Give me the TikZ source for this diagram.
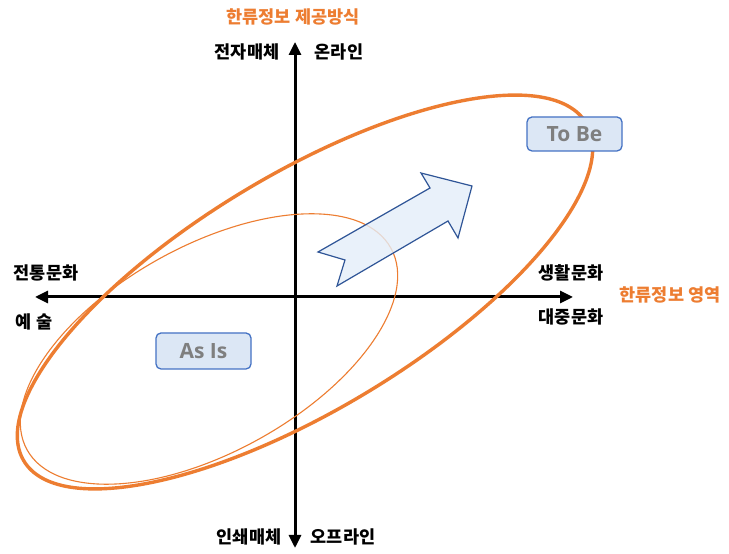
\documentclass[tikz,border=0pt]{standalone}
\usepackage{fontspec}
\newfontfamily\kr{Noto Sans CJK KR}
\newfontfamily\lat{Open Sans}
\usetikzlibrary{arrows.meta}
\definecolor{korange}{HTML}{ED7D31}
\definecolor{kblue}{HTML}{4472C4}
\definecolor{kdblue}{HTML}{2F5597}
\definecolor{kfill}{HTML}{DCE7F5}
\definecolor{kafill}{HTML}{E4EEF9}
\definecolor{kgray}{HTML}{7F7F7F}
\tikzset{
  axisline/.style={line width=3pt, {Triangle[width=12pt,length=13pt]}-{Triangle[width=12pt,length=13pt]}},
  axlabel/.style={font=\kr\bfseries\fontsize{17.5}{20}\selectfont, text=black, inner sep=0pt},
  orlabel/.style={font=\kr\bfseries\fontsize{17.5}{20}\selectfont, text=korange, inner sep=0pt},
  statebox/.style={draw=kblue, line width=1.3pt, fill=kfill, rounded corners=5pt, font=\lat\bfseries\fontsize{21}{24}\selectfont, text=kgray, inner sep=0pt},
  bigell/.style={draw=korange, line width=3.4pt},
  smallell/.style={draw=korange, line width=1.1pt},
}
\begin{document}
\begin{tikzpicture}[x=1pt,y=1pt]
\useasboundingbox[fill=white] (0,0) rectangle (729,554);
% axes
\coordinate (L) at (35,257);
\coordinate (R) at (573,257);
\coordinate (T) at (295,512);
\coordinate (B) at (295,6);
\draw[axisline] (L) -- (R);
\draw[axisline] (B) -- (T);
% ellipses
\draw[bigell] (305,262) ellipse[x radius=328, y radius=118, rotate=31];
\draw[smallell] (209,205) ellipse[x radius=208, y radius=103, rotate=29];
% arrow
\coordinate (a1) at (318,302);
\coordinate (a2) at (430,366);
\coordinate (a3) at (421,381);
\coordinate (a4) at (472,368);
\coordinate (a5) at (458,316);
\coordinate (a6) at (448,333);
\coordinate (a7) at (337,268);
\coordinate (a8) at (345,294);
\draw[draw=kdblue, line width=1.2pt, fill=kafill, fill opacity=0.8, line join=miter]
  (a1) -- (a2) -- (a3) -- (a4) -- (a5) -- (a6) -- (a7) -- (a8) -- cycle;
% boxes
\node[statebox, minimum width=95pt, minimum height=36pt] (asis) at (203.5,203) {As Is};
\node[statebox, minimum width=95pt, minimum height=34pt] (tobe) at (574.5,420) {To Be};
% labels
\node[orlabel] (title) at (293,537) {한류정보 제공방식};
\node[axlabel] (tl) at (247,502) {전자매체};
\node[axlabel] (tr) at (339,502) {온라인};
\node[axlabel] (ltop) at (46,281) {전통문화};
\node[axlabel] (lbot) at (34,232) {예 술};
\node[axlabel] (rtop) at (571,281) {생활문화};
\node[axlabel] (rbot) at (571,237) {대중문화};
\node[orlabel] (rlab) at (670,259) {한류정보 영역};
\node[axlabel] (bl) at (249,17) {인쇄매체};
\node[axlabel] (br) at (343,17) {오프라인};
\end{tikzpicture}
\end{document}
